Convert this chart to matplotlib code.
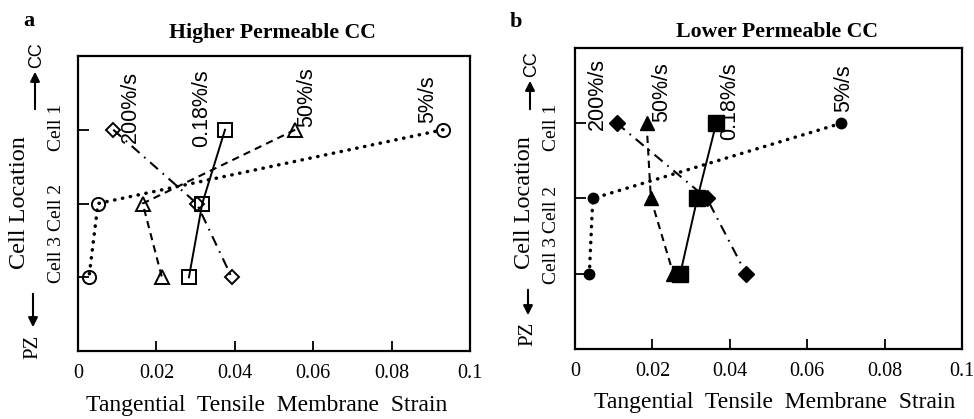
import matplotlib
matplotlib.use("Agg")
import matplotlib.pyplot as plt
from matplotlib.transforms import blended_transform_factory

# ---------------- data ----------------
cells = [3, 2, 1]                      # Cell 1 (top, CC side) ... Cell 3 (bottom, PZ side)
cell_labels = ["Cell 1", "Cell 2", "Cell 3"]
rates = ["5%/s", "50%/s", "0.18%/s", "200%/s"]

# strain values ordered [Cell 1, Cell 2, Cell 3]
high_5   = [0.0931, 0.0051, 0.0028]
high_50  = [0.0554, 0.0165, 0.0214]
high_018 = [0.0375, 0.0317, 0.0283]
high_200 = [0.0090, 0.0303, 0.0392]

low_5   = [0.0688, 0.0046, 0.0037]
low_50  = [0.0185, 0.0196, 0.0254]
low_018 = [0.0365, 0.0316, 0.0272]
low_200 = [0.0108, 0.0341, 0.0442]

xticks = [0, 0.02, 0.04, 0.06, 0.08, 0.1]
xtick_labels = ["0", "0.02", "0.04", "0.06", "0.08", "0.1"]

# label anchor positions (x, y of text bottom) for rotated rate labels
high_label_pos = {"5%/s": (0.0893, 3.09), "50%/s": (0.0584, 3.04),
                  "0.18%/s": (0.0316, 2.77), "200%/s": (0.0133, 2.82)}
low_label_pos = {"5%/s": (0.0695, 3.15), "50%/s": (0.0225, 3.02),
                 "0.18%/s": (0.0400, 2.78), "200%/s": (0.0057, 2.91)}

W, H = 974, 419
fig = plt.figure(figsize=(W / 100, H / 100), dpi=100)
serif = "Liberation Serif"
sans = "Liberation Sans"

def fx(px):
    return px / W

def fy(py):
    return 1 - py / H

styles = {
    "5%/s":    dict(ls=(0, (0.1, 2.2)), lw=2.5, dash_capstyle="round", marker="o"),
    "50%/s":   dict(ls=(0, (3.5, 2.5)), lw=1.5, marker="^"),
    "0.18%/s": dict(ls="-", lw=1.4, marker="s"),
    "200%/s":  dict(ls=(0, (5, 3, 0.8, 3)), lw=1.5, marker="D"),
}

def panel(rect, series, filled, label_pos, cell_text_x, cell_text_y, msizes):
    ax = fig.add_axes(rect)
    y = [c for c in cells]
    for name, xs in zip(rates, series):
        st = dict(styles[name])
        mk = st.pop("marker")
        if filled:
            ax.plot(xs, y, color="black", marker=mk, ms=msizes[name],
                    mfc="black", mec="black", **st)
        else:
            ax.plot(xs, y, color="black", marker=mk, ms=msizes[name],
                    mfc="none", mec="black", mew=1.4, **st)
        lx, ly = label_pos[name]
        ax.text(lx, ly, name, rotation=90, ha="center", va="bottom",
                fontsize=15.5, family=sans)
    ax.set_xlim(0, 0.1)
    ax.set_ylim(0, 4)
    ax.set_xticks(xticks)
    ax.set_xticklabels(xtick_labels, family=serif, fontsize=14.5)
    ax.set_yticks([1, 2, 3])
    ax.set_yticklabels([])
    ax.tick_params(direction="in", length=7, width=1.3, pad=9)
    ax.tick_params(axis="y", length=8)
    for sp in ax.spines.values():
        sp.set_linewidth(1.6)
    tr = blended_transform_factory(ax.transAxes, ax.transData)
    for lab, yy in zip(cell_labels, cell_text_y):
        ax.text(cell_text_x, yy, lab, rotation=90, ha="center", va="center",
                fontsize=14, family=serif, transform=tr)
    return ax

ms_open = {"5%/s": 9.5, "50%/s": 10.5, "0.18%/s": 9.5, "200%/s": 7.5}
ms_fill = {"5%/s": 7.5, "50%/s": 10, "0.18%/s": 11, "200%/s": 8.5}

axA = panel([fx(78), fy(351), fx(470) - fx(78), fy(56) - fy(351)],
            [high_5, high_50, high_018, high_200], False, high_label_pos,
            -0.0536, [3.03, 1.95, 1.24], ms_open)
axB = panel([fx(575), fy(349), fx(962) - fx(575), fy(48) - fy(349)],
            [low_5, low_50, low_018, low_200], True, low_label_pos,
            -0.062, [2.95, 1.85, 1.18], ms_fill)

# titles, axis labels, panel letters
fig.text(fx(272), fy(33), "Higher Permeable CC", ha="center", va="center",
         family=serif, fontweight="bold", fontsize=15.7)
fig.text(fx(777), fy(32), "Lower Permeable CC", ha="center", va="center",
         family=serif, fontweight="bold", fontsize=15.7)
fig.text(fx(267), fy(405), "Tangential  Tensile  Membrane  Strain", ha="center",
         va="center", family=serif, fontsize=17)
fig.text(fx(775), fy(402), "Tangential  Tensile  Membrane  Strain", ha="center",
         va="center", family=serif, fontsize=17)
fig.text(fx(29), fy(21), "a", ha="center", va="center", family=serif,
         fontweight="bold", fontsize=16)
fig.text(fx(516), fy(22), "b", ha="center", va="center", family=serif,
         fontweight="bold", fontsize=16)

for cx, cy in [(20, 203), (524, 203)]:
    fig.text(fx(cx), fy(cy), "Cell Location", rotation=90, ha="center",
             va="center", family=serif, fontsize=17.5)

# PZ / CC direction markers
def direction(xc, pz_y, pz_arrow, cc_y, cc_arrow):
    fig.text(fx(xc), fy(pz_y), "PZ", rotation=90, ha="center", va="center",
             family=serif, fontsize=15)
    fig.text(fx(xc + 4), fy(cc_y), "CC", rotation=90, ha="center", va="center",
             family=sans, fontsize=13)
    fig.add_artist(matplotlib.patches.FancyArrowPatch(
        (fx(xc), fy(pz_arrow[0])), (fx(xc), fy(pz_arrow[1])),
        transform=fig.transFigure, arrowstyle="-|>", mutation_scale=14,
        lw=1.5, color="black"))
    fig.add_artist(matplotlib.patches.FancyArrowPatch(
        (fx(xc + 2), fy(cc_arrow[0])), (fx(xc + 2), fy(cc_arrow[1])),
        transform=fig.transFigure, arrowstyle="-|>", mutation_scale=14,
        lw=1.5, color="black"))

direction(33, 347, (291, 330), 55, (112, 69))
direction(528, 334, (287, 318), 64, (112, 78))

fig.savefig("out.png", dpi=100)
